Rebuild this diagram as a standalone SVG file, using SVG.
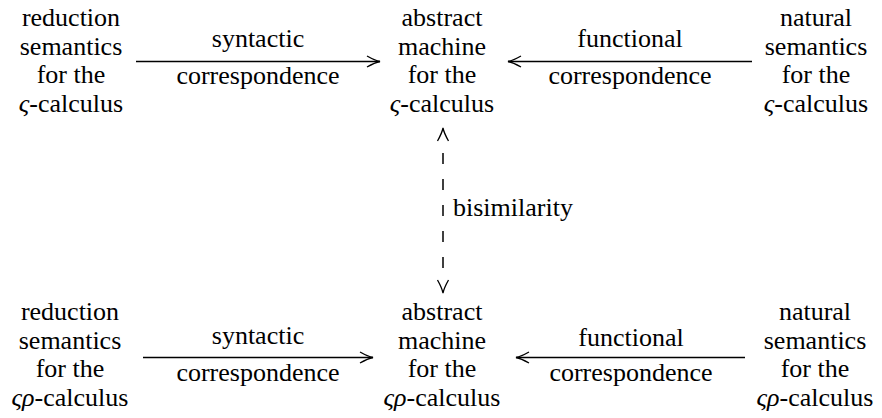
<svg xmlns="http://www.w3.org/2000/svg" width="882" height="418" viewBox="0 0 882 418">
<style>
.t{font-family:"Liberation Serif","DejaVu Serif",serif;font-size:26px;fill:#000}
.n text,.lbl{text-anchor:middle}
.c{fill:none;stroke:#000;stroke-width:1.7}
.m{font-style:italic}
</style>
<defs>
<marker id="ah" markerUnits="userSpaceOnUse" markerWidth="20" markerHeight="16" viewBox="-15 -8 20 16" refX="0" refY="0" orient="auto-start-reverse" overflow="visible">
<path d="M-13,-5.5 Q-5,-1 0,0 Q-5,1 -13,5.5" fill="none" stroke="#000" stroke-width="1.3"/>
</marker>
</defs>
<rect width="882" height="418" fill="#fff"/>
<g id="connectors" class="t">
<path class="c" d="M136,61.5 H380" marker-end="url(#ah)"/>
<path class="c" d="M752,61.5 H508" marker-end="url(#ah)"/>
<path class="c" d="M143,357.5 H373" marker-end="url(#ah)"/>
<path class="c" d="M745,357.5 H516" marker-end="url(#ah)"/>
<path d="M443,128 V293" fill="none" stroke="#000" stroke-width="1.5" stroke-dasharray="0 25 11 15 11 15 11 15 11 15 11 100" marker-start="url(#ah)" marker-end="url(#ah)"/>
<text class="lbl" x="258" y="47">syntactic</text>
<text class="lbl" x="258" y="84">correspondence</text>
<text class="lbl" x="630" y="47">functional</text>
<text class="lbl" x="630" y="84">correspondence</text>
<text class="lbl" x="258" y="344">syntactic</text>
<text class="lbl" x="258" y="381">correspondence</text>
<text class="lbl" x="631" y="346">functional</text>
<text class="lbl" x="631" y="381">correspondence</text>
<text x="453" y="216">bisimilarity</text>
</g>
<g id="rs-sigma" class="n t">
<text x="71" y="26">reduction</text>
<text x="71" y="54.5">semantics</text>
<text x="71" y="83">for the</text>
<text x="71" y="111.5"><tspan class="m">ς</tspan>-calculus</text>
</g>
<g id="am-sigma" class="n t">
<text x="442" y="26">abstract</text>
<text x="442" y="54.5">machine</text>
<text x="442" y="83">for the</text>
<text x="442" y="111.5"><tspan class="m">ς</tspan>-calculus</text>
</g>
<g id="ns-sigma" class="n t">
<text x="816" y="26">natural</text>
<text x="816" y="54.5">semantics</text>
<text x="816" y="83">for the</text>
<text x="816" y="111.5"><tspan class="m">ς</tspan>-calculus</text>
</g>
<g id="rs-sigmarho" class="n t">
<text x="70" y="320">reduction</text>
<text x="70" y="348.5">semantics</text>
<text x="70" y="377">for the</text>
<text x="70" y="405.5"><tspan class="m">ςρ</tspan>-calculus</text>
</g>
<g id="am-sigmarho" class="n t">
<text x="442" y="320">abstract</text>
<text x="442" y="348.5">machine</text>
<text x="442" y="377">for the</text>
<text x="442" y="405.5"><tspan class="m">ςρ</tspan>-calculus</text>
</g>
<g id="ns-sigmarho" class="n t">
<text x="815" y="320">natural</text>
<text x="815" y="348.5">semantics</text>
<text x="815" y="377">for the</text>
<text x="815" y="405.5"><tspan class="m">ςρ</tspan>-calculus</text>
</g>
</svg>
